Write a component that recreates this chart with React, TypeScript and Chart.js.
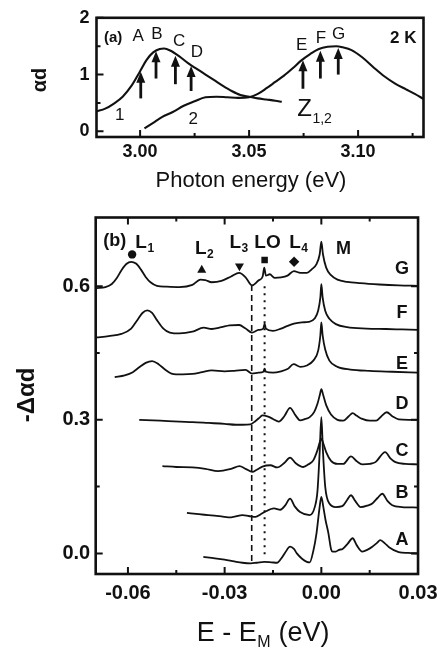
import React, { useEffect, useRef } from "react";
import { Chart, registerables } from "chart.js";

Chart.register(...registerables);

const INK = "#111111";
const FAMILY = "'Liberation Sans', Arial, Helvetica, sans-serif";

// ---------------- Panel (a) data ----------------
const xTicksA = [3.0, 3.05, 3.1];
const xMinorA = [3.025, 3.075, 3.125];
const yTicksA = [0, 1, 2];
const yMinorA = [0.5, 1.5];

const curve1A: [number, number][] = [
  [2.98, 0.35], [2.984, 0.4], [2.988, 0.49], [2.992, 0.61], [2.996, 0.8], [3.0, 1.06],
  [3.003, 1.26], [3.006, 1.39], [3.009, 1.45], [3.011, 1.46], [3.014, 1.42], [3.018, 1.32],
  [3.022, 1.2], [3.026, 1.1], [3.03, 1.0], [3.034, 0.9], [3.038, 0.8], [3.042, 0.71],
  [3.046, 0.64], [3.05, 0.61], [3.054, 0.58], [3.058, 0.56], [3.062, 0.54], [3.065, 0.52],
];

const curve2A: [number, number][] = [
  [3.002, 0.05], [3.006, 0.15], [3.01, 0.25], [3.015, 0.34], [3.02, 0.45], [3.025, 0.53],
  [3.03, 0.6], [3.035, 0.61], [3.04, 0.6], [3.045, 0.59], [3.05, 0.6], [3.054, 0.66],
  [3.058, 0.76], [3.062, 0.87], [3.066, 0.98], [3.07, 1.11], [3.074, 1.25], [3.078, 1.36],
  [3.082, 1.45], [3.086, 1.49], [3.09, 1.5], [3.093, 1.48], [3.097, 1.43], [3.102, 1.3],
  [3.107, 1.13], [3.112, 0.97], [3.117, 0.84], [3.122, 0.74], [3.126, 0.66], [3.13, 0.57],
];

const arrowNamesA = ["A", "B", "C", "D", "E", "F", "G"];
const arrowXA = [3.0003, 3.0073, 3.0162, 3.0234, 3.0747, 3.0827, 3.0909];
const arrowTailA = [0.58, 0.93, 0.83, 0.71, 0.75, 0.93, 1.0];
const arrowTipA = [1.05, 1.41, 1.33, 1.15, 1.25, 1.42, 1.47];
const letterXA = [2.9991, 3.0077, 3.0179, 3.0261, 3.0741, 3.0829, 3.0911];
const letterYA = [1.68, 1.71, 1.58, 1.4, 1.51, 1.64, 1.71];

// ---------------- Panel (b) data ----------------
const xTicksB = [-0.06, -0.03, 0, 0.03];
const xMinorB = [-0.045, -0.015, 0.015];
const yTicksB = [0, 0.3, 0.6];
const yMinorB = [0.15, 0.45];

const traceG: [number, number][] = [
  [-0.0697, 0.596], [-0.067, 0.598], [-0.065, 0.605], [-0.0635, 0.618], [-0.062, 0.636],
  [-0.0605, 0.65], [-0.059, 0.655], [-0.0575, 0.651], [-0.056, 0.638], [-0.0545, 0.621],
  [-0.053, 0.609], [-0.051, 0.601], [-0.048, 0.599], [-0.044, 0.598], [-0.04, 0.603],
  [-0.0375, 0.615], [-0.036, 0.614], [-0.034, 0.609], [-0.031, 0.612], [-0.028, 0.622],
  [-0.0255, 0.63], [-0.0235, 0.62], [-0.0215, 0.602], [-0.0195, 0.613], [-0.0182, 0.622],
  [-0.0177, 0.642], [-0.0172, 0.624], [-0.016, 0.627], [-0.0145, 0.619], [-0.0125, 0.62],
  [-0.0105, 0.624], [-0.0085, 0.634], [-0.0065, 0.63], [-0.0045, 0.63], [-0.003, 0.638],
  [-0.0015, 0.65], [-0.0005, 0.672], [0.0, 0.7], [0.0005, 0.672], [0.0015, 0.642],
  [0.003, 0.625], [0.005, 0.615], [0.008, 0.61], [0.012, 0.607], [0.018, 0.604],
  [0.024, 0.602], [0.03, 0.601],
];

const traceF: [number, number][] = [
  [-0.0697, 0.485], [-0.066, 0.488], [-0.062, 0.493], [-0.059, 0.505], [-0.057, 0.525],
  [-0.0555, 0.54], [-0.054, 0.546], [-0.0525, 0.54], [-0.051, 0.524], [-0.049, 0.505],
  [-0.047, 0.496], [-0.044, 0.494], [-0.04, 0.498], [-0.0365, 0.507], [-0.034, 0.504],
  [-0.031, 0.508], [-0.0285, 0.512], [-0.0255, 0.513], [-0.0235, 0.505], [-0.0215, 0.496],
  [-0.0195, 0.502], [-0.018, 0.505], [-0.0176, 0.516], [-0.0172, 0.505], [-0.015, 0.5],
  [-0.0125, 0.505], [-0.0105, 0.511], [-0.0085, 0.516], [-0.006, 0.519], [-0.004, 0.52],
  [-0.002, 0.528], [-0.001, 0.545], [-0.0003, 0.575], [0.0, 0.605], [0.0004, 0.575],
  [0.0012, 0.545], [0.0025, 0.527], [0.0045, 0.515], [0.008, 0.508], [0.014, 0.505],
  [0.02, 0.504], [0.025, 0.503], [0.03, 0.502],
];

const traceE: [number, number][] = [
  [-0.0641, 0.396], [-0.061, 0.4], [-0.0585, 0.407], [-0.0565, 0.418], [-0.0545, 0.428],
  [-0.0525, 0.432], [-0.0505, 0.425], [-0.0485, 0.413], [-0.0465, 0.404], [-0.043, 0.402],
  [-0.04, 0.403], [-0.037, 0.407], [-0.034, 0.411], [-0.03, 0.409], [-0.027, 0.41],
  [-0.0235, 0.412], [-0.0215, 0.404], [-0.0195, 0.406], [-0.018, 0.408], [-0.0176, 0.415],
  [-0.0172, 0.408], [-0.015, 0.406], [-0.0125, 0.409], [-0.0105, 0.414], [-0.0086, 0.425],
  [-0.0065, 0.419], [-0.0045, 0.422], [-0.0025, 0.433], [-0.001, 0.455], [-0.0003, 0.49],
  [0.0, 0.519], [0.0004, 0.49], [0.0012, 0.458], [0.0025, 0.433], [0.005, 0.419],
  [0.009, 0.413], [0.015, 0.41], [0.022, 0.408], [0.03, 0.406],
];

const traceD: [number, number][] = [
  [-0.0565, 0.3], [-0.05, 0.298], [-0.044, 0.296], [-0.04, 0.295], [-0.035, 0.293],
  [-0.03, 0.291], [-0.0265, 0.289], [-0.0245, 0.289], [-0.022, 0.29], [-0.0205, 0.297],
  [-0.019, 0.306], [-0.0183, 0.31], [-0.0165, 0.307], [-0.015, 0.302], [-0.0132, 0.296],
  [-0.0115, 0.308], [-0.0097, 0.327], [-0.008, 0.31], [-0.0066, 0.299], [-0.005, 0.302],
  [-0.0036, 0.306], [-0.0022, 0.318], [-0.0012, 0.336], [-0.0004, 0.358], [0.0, 0.369],
  [0.0006, 0.355], [0.0015, 0.333], [0.003, 0.312], [0.005, 0.3], [0.0068, 0.298],
  [0.0085, 0.308], [0.0097, 0.315], [0.011, 0.309], [0.0127, 0.302], [0.015, 0.298],
  [0.017, 0.298], [0.0185, 0.307], [0.0203, 0.317], [0.022, 0.308], [0.024, 0.301],
  [0.027, 0.3], [0.03, 0.3],
];

const traceC: [number, number][] = [
  [-0.0493, 0.196], [-0.045, 0.194], [-0.04, 0.193], [-0.036, 0.19], [-0.032, 0.185],
  [-0.028, 0.19], [-0.0254, 0.196], [-0.0235, 0.19], [-0.0214, 0.183], [-0.02, 0.188],
  [-0.0183, 0.195], [-0.0158, 0.198], [-0.0137, 0.193], [-0.0115, 0.203], [-0.0097, 0.215],
  [-0.008, 0.203], [-0.0056, 0.194], [-0.004, 0.2], [-0.0025, 0.209], [-0.0012, 0.232],
  [-0.0004, 0.252], [0.0, 0.2575], [0.0007, 0.245], [0.0015, 0.2275], [0.003, 0.208],
  [0.005, 0.201], [0.0068, 0.201], [0.0092, 0.218], [0.011, 0.207], [0.0127, 0.2],
  [0.015, 0.201], [0.0168, 0.205], [0.0198, 0.2275], [0.0215, 0.213], [0.023, 0.205],
  [0.026, 0.201], [0.03, 0.2],
];

const traceB: [number, number][] = [
  [-0.0417, 0.091], [-0.038, 0.088], [-0.0351, 0.086], [-0.031, 0.083], [-0.028, 0.081],
  [-0.0244, 0.086], [-0.0225, 0.084], [-0.0204, 0.082], [-0.0188, 0.088], [-0.0176, 0.093],
  [-0.0147, 0.101], [-0.0127, 0.098], [-0.0112, 0.108], [-0.0097, 0.123], [-0.0082, 0.105],
  [-0.0066, 0.093], [-0.0036, 0.086], [-0.002, 0.105], [-0.0012, 0.14], [-0.0005, 0.23],
  [0.0, 0.306], [0.0005, 0.23], [0.0012, 0.15], [0.0025, 0.112], [0.0045, 0.104],
  [0.0065, 0.106], [0.008, 0.12], [0.0092, 0.1306], [0.0105, 0.118], [0.0122, 0.104],
  [0.0145, 0.108], [0.0158, 0.112], [0.0175, 0.125], [0.0189, 0.134], [0.0205, 0.118],
  [0.022, 0.108], [0.025, 0.104], [0.03, 0.103],
];

const traceA: [number, number][] = [
  [-0.0366, -0.008], [-0.033, -0.011], [-0.03, -0.014], [-0.027, -0.018], [-0.0245, -0.021],
  [-0.0219, -0.0224], [-0.02, -0.021], [-0.0177, -0.019], [-0.0155, -0.02], [-0.0137, -0.021],
  [-0.0125, -0.012], [-0.0112, 0.002], [-0.0097, 0.015], [-0.0085, 0.01], [-0.0076, 0.0],
  [-0.006, -0.012], [-0.0045, -0.019], [-0.0036, -0.02], [-0.0025, 0.005], [-0.0015, 0.045],
  [-0.0006, 0.1], [0.0, 0.127], [0.0006, 0.105], [0.0013, 0.075], [0.0022, 0.045],
  [0.003, 0.01], [0.0035, 0.004], [0.0045, 0.004], [0.0055, 0.008], [0.0066, 0.01],
  [0.0082, 0.022], [0.0097, 0.034], [0.011, 0.018], [0.0127, 0.004], [0.0145, 0.009],
  [0.0158, 0.015], [0.0172, 0.023], [0.0183, 0.03], [0.0198, 0.022], [0.021, 0.014],
  [0.024, 0.003], [0.027, 0.001], [0.03, 0.0],
];

const tracesB = [traceG, traceF, traceE, traceD, traceC, traceB, traceA];
const traceNamesB = ["G", "F", "E", "D", "C", "B", "A"];
const traceLabelYB = [0.627, 0.528, 0.414, 0.3246, 0.2178, 0.1254, 0.0186];

const markerNamesB = ["L", "L", "L", "LO", "L"];
const markerSubsB = ["1", "2", "3", "", "4"];
const markerXB = [-0.0587, -0.0371, -0.0254, -0.0176, -0.00845];
const markerYB = [0.6716, 0.6365, 0.6455, 0.659, 0.655];
const markerLabelXB = [-0.0577, -0.0392, -0.0285, -0.0208, -0.00998];
const markerLabelYB = [0.6864, 0.6716, 0.6864, 0.6864, 0.6864];

const dashLineX = -0.0216;
const dashLineY = [0.603, -0.025];
const dotLineX = -0.0176;
const dotLineY = [0.6, -0.002];

// ---------------- helpers ----------------
function font(size: number, weight: string) {
  return `${weight} ${size}px ${FAMILY}`;
}

function text(
  ctx: CanvasRenderingContext2D, s: string, x: number, y: number, size: number,
  weight = "normal", align: CanvasTextAlign = "center", baseline: CanvasTextBaseline = "middle"
) {
  ctx.font = font(size, weight);
  ctx.textAlign = align;
  ctx.textBaseline = baseline;
  ctx.fillText(s, x, y);
}

function subText(
  ctx: CanvasRenderingContext2D, main: string, sub: string, x: number, y: number,
  size: number, subSize: number, weight: string, subDrop: number
) {
  ctx.font = font(size, weight);
  const w = ctx.measureText(main).width;
  text(ctx, main, x, y, size, weight, "left", "alphabetic");
  if (sub) text(ctx, sub, x + w + 0.5, y + subDrop, subSize, weight, "left", "alphabetic");
  return w;
}

function inwardTicks(
  ctx: CanvasRenderingContext2D, chart: any, xMajor: number[], xMinor: number[],
  yMajor: number[], yMinor: number[], allSides: boolean
) {
  const { chartArea: ca, scales } = chart;
  const xs = scales.x, ys = scales.y;
  const ML = 7, mL = 4;
  ctx.lineWidth = 2;
  ctx.beginPath();
  const xt = (v: number, L: number) => {
    const p = xs.getPixelForValue(v);
    ctx.moveTo(p, ca.bottom); ctx.lineTo(p, ca.bottom - L);
    if (allSides) { ctx.moveTo(p, ca.top); ctx.lineTo(p, ca.top + L); }
  };
  const yt = (v: number, L: number) => {
    const p = ys.getPixelForValue(v);
    ctx.moveTo(ca.left, p); ctx.lineTo(ca.left + L, p);
    if (allSides) { ctx.moveTo(ca.right, p); ctx.lineTo(ca.right - L, p); }
  };
  xMajor.forEach((v) => xt(v, ML));
  xMinor.forEach((v) => xt(v, mL));
  yMajor.forEach((v) => yt(v, ML));
  yMinor.forEach((v) => yt(v, mL));
  ctx.stroke();
}

// ---------------- plugins ----------------
const panelAPlugin = {
  id: "panelA",
  afterDatasetsDraw(chart: any) {
    const { ctx, chartArea: ca, scales } = chart;
    const xs = scales.x, ys = scales.y;
    ctx.save();
    ctx.fillStyle = INK;
    ctx.strokeStyle = INK;

    // arrows
    arrowXA.forEach((xv, i) => {
      const px = xs.getPixelForValue(xv);
      const y0 = ys.getPixelForValue(arrowTailA[i]);
      const y1 = ys.getPixelForValue(arrowTipA[i]);
      ctx.lineWidth = 2.8;
      ctx.beginPath();
      ctx.moveTo(px, y0);
      ctx.lineTo(px, y1 + 8);
      ctx.stroke();
      ctx.beginPath();
      ctx.moveTo(px, y1);
      ctx.lineTo(px - 4.5, y1 + 11);
      ctx.lineTo(px + 4.5, y1 + 11);
      ctx.closePath();
      ctx.fill();
    });
    arrowNamesA.forEach((s, i) => {
      text(ctx, s, xs.getPixelForValue(letterXA[i]), ys.getPixelForValue(letterYA[i]), 17, "normal");
    });

    text(ctx, "(a)", xs.getPixelForValue(2.9876), ys.getPixelForValue(1.65), 15, "bold");
    text(ctx, "2 K", xs.getPixelForValue(3.1207), ys.getPixelForValue(1.63), 17, "bold");
    text(ctx, "1", xs.getPixelForValue(2.9907), ys.getPixelForValue(0.28), 17, "normal");
    text(ctx, "2", xs.getPixelForValue(3.0244), ys.getPixelForValue(0.22), 17, "normal");
    subText(ctx, "Z", "1,2", xs.getPixelForValue(3.0721), ys.getPixelForValue(0.276), 24, 14, "normal", 7);

    // box and ticks
    ctx.lineWidth = 2.6;
    ctx.strokeRect(ca.left, ca.top, ca.right - ca.left, ca.bottom - ca.top);
    inwardTicks(ctx, chart, xTicksA, xMinorA, yTicksA, yMinorA, false);

    // axis titles
    text(ctx, "Photon energy (eV)", 251, 187, 22, "normal", "center", "alphabetic");
    ctx.save();
    ctx.translate(40, 80);
    ctx.rotate(-Math.PI / 2);
    text(ctx, "αd", 0, 0, 20, "bold");
    ctx.restore();

    ctx.restore();
  },
};

const panelBPlugin = {
  id: "panelB",
  beforeDatasetsDraw(chart: any) {
    const { ctx, scales } = chart;
    const xs = scales.x, ys = scales.y;
    ctx.save();
    ctx.strokeStyle = INK;
    ctx.lineWidth = 1.6;
    ctx.setLineDash([6, 4]);
    ctx.beginPath();
    const dx = xs.getPixelForValue(dashLineX);
    ctx.moveTo(dx, ys.getPixelForValue(dashLineY[0]));
    ctx.lineTo(dx, ys.getPixelForValue(dashLineY[1]));
    ctx.stroke();
    ctx.setLineDash([2, 5]);
    ctx.lineWidth = 2;
    ctx.beginPath();
    const ox = xs.getPixelForValue(dotLineX);
    ctx.moveTo(ox, ys.getPixelForValue(dotLineY[0]));
    ctx.lineTo(ox, ys.getPixelForValue(dotLineY[1]));
    ctx.stroke();
    ctx.restore();
  },
  afterDatasetsDraw(chart: any) {
    const { ctx, chartArea: ca, scales } = chart;
    const xs = scales.x, ys = scales.y;
    ctx.save();
    ctx.fillStyle = INK;
    ctx.strokeStyle = INK;

    ctx.lineWidth = 2.6;
    ctx.strokeRect(ca.left, ca.top, ca.right - ca.left, ca.bottom - ca.top);
    inwardTicks(ctx, chart, xTicksB, xMinorB, yTicksB, yMinorB, true);

    text(ctx, "(b)", xs.getPixelForValue(-0.0641), ys.getPixelForValue(0.7015), 18, "bold");
    markerNamesB.forEach((s, i) => {
      subText(
        ctx, s, markerSubsB[i], xs.getPixelForValue(markerLabelXB[i]),
        ys.getPixelForValue(markerLabelYB[i]), 19, 12, "bold", 4
      );
    });
    text(ctx, "M", xs.getPixelForValue(0.0069), ys.getPixelForValue(0.673), 18, "bold", "center", "alphabetic");
    traceNamesB.forEach((s, i) => {
      text(ctx, s, xs.getPixelForValue(0.025), ys.getPixelForValue(traceLabelYB[i]), 18, "bold", "center", "alphabetic");
    });

    // axis titles
    const w = subText(ctx, "E - E", "", 196.7, 441, 27, 16, "normal", 0);
    ctx.font = font(16, "normal");
    const ws = ctx.measureText("M").width;
    text(ctx, "M", 196.7 + w + 0.5, 447, 16, "normal", "left", "alphabetic");
    text(ctx, " (eV)", 196.7 + w + ws + 1, 441, 27, "normal", "left", "alphabetic");

    ctx.save();
    ctx.translate(27, 195);
    ctx.rotate(-Math.PI / 2);
    text(ctx, "-Δαd", 0, 0, 24, "bold");
    ctx.restore();

    ctx.restore();
  },
};

function lineDs(pts: [number, number][], width: number) {
  return {
    data: pts.map(([x, y]) => ({ x, y })),
    showLine: true,
    borderColor: INK,
    backgroundColor: INK,
    borderWidth: width,
    pointRadius: 0,
    cubicInterpolationMode: "monotone" as const,
  };
}

function axisCommon(size: number, pad: number, fmt: (v: number) => string) {
  return {
    type: "linear" as const,
    grid: { display: false, drawTicks: false },
    border: { display: false },
    ticks: {
      color: INK,
      font: { family: FAMILY, size, weight: "bold" as const },
      padding: pad,
      maxRotation: 0,
      autoSkip: false,
      callback: (v: any) => fmt(Number(v)),
    },
  };
}

export default function App() {
  const refA = useRef<HTMLCanvasElement>(null);
  const refB = useRef<HTMLCanvasElement>(null);

  useEffect(() => {
    const chartA = new Chart(refA.current as HTMLCanvasElement, {
      type: "scatter",
      data: { datasets: [lineDs(curve1A, 2.1), lineDs(curve2A, 2.1)] as any },
      options: {
        animation: false,
        responsive: true,
        maintainAspectRatio: false,
        events: [],
        layout: { padding: { left: 0, right: 21.5, top: 16, bottom: 0 } },
        plugins: { legend: { display: false }, tooltip: { enabled: false } },
        scales: {
          x: {
            ...axisCommon(18, 4.5, (v) => v.toFixed(2)),
            min: 2.98,
            max: 3.13,
            afterBuildTicks: (s: any) => { s.ticks = xTicksA.map((value) => ({ value })); },
            afterFit: (s: any) => { s.height = 63; },
          },
          y: {
            ...axisCommon(18, 7, (v) => String(Math.round(v))),
            min: -0.1,
            max: 2,
            afterBuildTicks: (s: any) => { s.ticks = yTicksA.map((value) => ({ value })); },
            afterFit: (s: any) => { s.width = 96.5; },
          },
        } as any,
      },
      plugins: [panelAPlugin],
    });

    const markerDs = {
      data: markerXB.map((x, i) => ({ x, y: markerYB[i] })),
      showLine: false,
      pointStyle: ["circle", "triangle", "triangle", "rect", "rectRot"],
      rotation: [0, 0, 180, 0, 0],
      pointRadius: [4.2, 5.2, 5.2, 4.6, 5.2],
      backgroundColor: INK,
      borderColor: INK,
      borderWidth: 0,
    };

    const chartB = new Chart(refB.current as HTMLCanvasElement, {
      type: "scatter",
      data: { datasets: [...tracesB.map((t) => lineDs(t, 1.8)), markerDs] as any },
      options: {
        animation: false,
        responsive: true,
        maintainAspectRatio: false,
        events: [],
        layout: { padding: { left: 0, right: 21.7, top: 16, bottom: 0 } },
        plugins: { legend: { display: false }, tooltip: { enabled: false } },
        scales: {
          x: {
            ...axisCommon(20, 7.5, (v) => (Math.abs(v) < 1e-9 ? "0.00" : v.toFixed(2))),
            min: -0.07,
            max: 0.03,
            afterBuildTicks: (s: any) => { s.ticks = xTicksB.map((value) => ({ value })); },
            afterFit: (s: any) => { s.height = 76; },
          },
          y: {
            ...axisCommon(20, 5.5, (v) => v.toFixed(1)),
            min: -0.0463,
            max: 0.7545,
            afterBuildTicks: (s: any) => { s.ticks = yTicksB.map((value) => ({ value })); },
            afterFit: (s: any) => { s.width = 95.7; },
          },
        } as any,
      },
      plugins: [panelBPlugin],
    });

    return () => {
      chartA.destroy();
      chartB.destroy();
    };
  }, []);

  return (
    <div style={{ position: "absolute", left: 0, top: 0, width: 445, height: 650, background: "#fff" }}>
      <div style={{ position: "absolute", left: 0, top: 0, width: 445, height: 200 }}>
        <canvas ref={refA} />
      </div>
      <div style={{ position: "absolute", left: 0, top: 200, width: 445, height: 450 }}>
        <canvas ref={refB} />
      </div>
    </div>
  );
}
